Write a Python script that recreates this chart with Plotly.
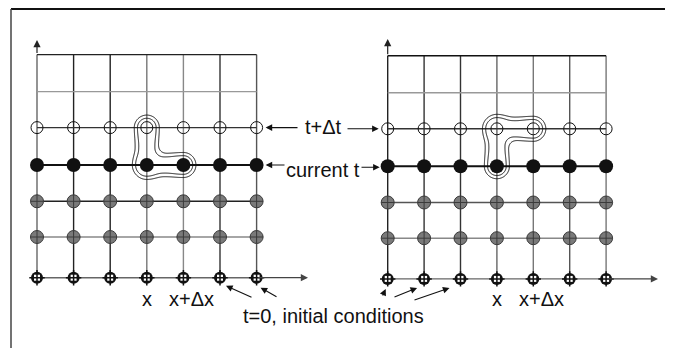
import numpy as np
import plotly.graph_objects as go

# ---------------- data ----------------
time_levels = ["t=0", "t1", "t2", "current t", "t+Δt", "t+2Δt", "t+3Δt"]
node_kind = ["initial", "known", "known", "current", "next", None, None]
n_space = 7
# stencils: (space index, time index)
left_stencil = [(3, 4), (3, 3), (4, 3)]
right_stencil = [(4, 4), (3, 4), (3, 3)]
left_space_labels = [(3, "x"), (4, "x+Δx")]
right_space_labels = [(3, "x"), (4, "x+Δx")]
label_next = "t+Δt"
label_current = "current t"
label_initial = "t=0, initial conditions"

# ---------------- layout geometry (page-pixel coordinates) ----------------
W, H = 673, 348
PAGE_OFF = 8  # default body margin of the html page
ROW_Y = [277.7, 237.0, 201.3, 165.0, 127.6, 91.6, 54.6]
panels = {
    "left": dict(x0=37.0, dx=36.6, dy=0.0,
                 vcol=["#666", "#222", "#222", "#777", "#888", "#333", "#555"],
                 hcol=["#666", "#888", "#222", "#111", "#333", "#999", "#222"],
                 stencil=left_stencil, labels=left_space_labels,
                 xend=308, ytop=40),
    "right": dict(x0=387.7, dx=36.4, dy=1.2,
                  vcol=["#222", "#333", "#333", "#666", "#777", "#555", "#777"],
                  hcol=["#666", "#888", "#555", "#111", "#333", "#999", "#111"],
                  stencil=right_stencil, labels=right_space_labels,
                  xend=658, ytop=39),
}


def px(p, i):
    return p["x0"] + i * p["dx"]


def py(p, j):
    return ROW_Y[j] + p["dy"]


fig = go.Figure()
shapes = []
annotations = []
FONT = dict(family="Liberation Sans, Arial, sans-serif", size=20, color="#111")

# frame
shapes.append(dict(type="line", x0=11, x1=W + 5, y0=9, y1=9, xref="x", yref="y",
                   line=dict(color="#111", width=2)))
shapes.append(dict(type="line", x0=11, x1=11, y0=9, y1=H + 5, xref="x", yref="y",
                   line=dict(color="#444", width=1.5)))


def seg_dist(X, Y, ax, ay, bx, by):
    vx, vy = bx - ax, by - ay
    t = ((X - ax) * vx + (Y - ay) * vy) / (vx * vx + vy * vy)
    t = np.clip(t, 0, 1)
    return np.hypot(X - (ax + t * vx), Y - (ay + t * vy))


def smin(a, b, k):
    h = np.maximum(k - np.abs(a - b), 0) / k
    return np.minimum(a, b) - h * h * k * 0.25


for name, p in panels.items():
    nx = n_space
    ny = len(time_levels)
    # grid lines
    for i in range(nx):
        shapes.append(dict(type="line", layer="below", xref="x", yref="y",
                           x0=px(p, i), x1=px(p, i), y0=py(p, 0), y1=py(p, ny - 1),
                           line=dict(color=p["vcol"][i], width=1.4)))
    for j in range(ny):
        shapes.append(dict(type="line", layer="below", xref="x", yref="y",
                           x0=px(p, 0), x1=px(p, nx - 1), y0=py(p, j), y1=py(p, j),
                           line=dict(color=p["hcol"][j], width=2 if j == 3 else 1.4)))
    # axis arrows
    annotations.append(dict(x=px(p, 0), y=p["ytop"], ax=px(p, 0), ay=py(p, ny - 1),
                            xref="x", yref="y", axref="x", ayref="y", text="",
                            showarrow=True, arrowhead=2, arrowsize=1.2, arrowwidth=1.2,
                            arrowcolor="#222"))
    annotations.append(dict(x=p["xend"], y=py(p, 0), ax=px(p, nx - 1), ay=py(p, 0),
                            xref="x", yref="y", axref="x", ayref="y", text="",
                            showarrow=True, arrowhead=2, arrowsize=1.2, arrowwidth=1.2,
                            arrowcolor="#444"))
    # stencil outline via contour of a smooth distance field
    pts = [(px(p, i), py(p, j)) for i, j in p["stencil"]]
    xs_ = [q[0] for q in pts]
    ys_ = [q[1] for q in pts]
    gx = np.arange(min(xs_) - 24, max(xs_) + 24, 0.5)
    gy = np.arange(min(ys_) - 24, max(ys_) + 24, 0.5)
    X, Y = np.meshgrid(gx, gy)
    D = None
    for a, b in zip(pts[:-1], pts[1:]):
        d = seg_dist(X, Y, a[0], a[1], b[0], b[1])
        D = d if D is None else smin(D, d, 9)
    for q in pts:
        D = D - 3.0 * np.exp(-((X - q[0]) ** 2 + (Y - q[1]) ** 2) / 160.0)
    fig.add_trace(go.Contour(x=gx, y=gy, z=D, showscale=False, hoverinfo="skip",
                             autocontour=False,
                             contours=dict(start=7.6, end=11.4, size=3.8, coloring="none"),
                             line=dict(color="#111", width=1, smoothing=1.3)))
    # nodes
    for j, kind in enumerate(node_kind):
        if kind is None:
            continue
        xs = [px(p, i) for i in range(nx)]
        ys = [py(p, j)] * nx
        if kind == "initial":
            fig.add_trace(go.Scatter(x=xs, y=ys, mode="markers", hoverinfo="skip",
                                     marker=dict(symbol="circle", size=12, color="#111",
                                                 line=dict(width=0))))
            fig.add_trace(go.Scatter(x=xs, y=ys, mode="markers", hoverinfo="skip",
                                     marker=dict(symbol="square", size=6, color="white",
                                                 line=dict(width=0))))
            fig.add_trace(go.Scatter(x=xs, y=ys, mode="markers", hoverinfo="skip",
                                     marker=dict(symbol="cross-thin", size=11, color="#111",
                                                 line=dict(width=1.5, color="#111"))))
        elif kind == "known":
            fig.add_trace(go.Scatter(x=xs, y=ys, mode="markers", hoverinfo="skip",
                                     marker=dict(symbol="circle-cross", size=13, color="#7a7a7a",
                                                 line=dict(width=1, color="#3a3a3a"))))
        elif kind == "current":
            fig.add_trace(go.Scatter(x=xs, y=ys, mode="markers", hoverinfo="skip",
                                     marker=dict(symbol="circle", size=14, color="#111",
                                                 line=dict(width=0))))
        elif kind == "next":
            fig.add_trace(go.Scatter(x=xs, y=ys, mode="markers", hoverinfo="skip",
                                     marker=dict(symbol="circle-open", size=12, color="#111",
                                                 line=dict(width=1, color="#111"))))
    # x labels (the x+Δx label sits a little right of its column)
    for i, txt in p["labels"]:
        shift = 8 if len(txt) > 1 else 0
        annotations.append(dict(x=px(p, i) + shift, y=299, xref="x", yref="y", text=txt,
                                showarrow=False, font=FONT, xanchor="center",
                                yanchor="middle"))

L, R = panels["left"], panels["right"]

# middle labels with arrows
annotations.append(dict(x=323, y=126.5, xref="x", yref="y", text=label_next,
                        showarrow=False, font=FONT))
annotations.append(dict(x=323, y=169.5, xref="x", yref="y", text=label_current,
                        showarrow=False, font=FONT))
annotations.append(dict(x=333, y=316, xref="x", yref="y", text=label_initial,
                        showarrow=False, font=FONT))

arrow_specs = [
    # (tail, head)
    ((299, py(L, 4)), (px(L, 6) + 9, py(L, 4))),
    ((346, py(R, 4)), (px(R, 0) - 9, py(R, 4))),
    ((286, py(L, 3)), (px(L, 6) + 9, py(L, 3))),
    ((360, py(R, 3) + 1), (px(R, 0) - 8, py(R, 3) + 1)),
    ((253, 298), (px(L, 5) + 6, py(L, 0) + 8)),
    ((278, 297.5), (px(L, 6) + 4, py(L, 0) + 10)),
    ((382, 297), (px(R, 0) - 2, py(R, 0) + 10)),
    ((393, 297.5), (px(R, 1) - 7, py(R, 0) + 9)),
    ((413, 300.5), (px(R, 2) - 11, py(R, 0) + 9)),
]
for (tx, ty), (hx, hy) in arrow_specs:
    annotations.append(dict(x=hx, y=hy, ax=tx, ay=ty, xref="x", yref="y",
                            axref="x", ayref="y", text="", showarrow=True,
                            arrowhead=2, arrowsize=1.2, arrowwidth=1.1,
                            arrowcolor="#111"))

fig.update_layout(
    width=W - PAGE_OFF, height=H - PAGE_OFF, margin=dict(l=0, r=0, t=0, b=0),
    paper_bgcolor="white", plot_bgcolor="white", showlegend=False,
    xaxis=dict(range=[PAGE_OFF, W], visible=False, fixedrange=True),
    yaxis=dict(range=[H, PAGE_OFF], visible=False, fixedrange=True),
    shapes=shapes, annotations=annotations,
)
fig.write_html("out.html")
